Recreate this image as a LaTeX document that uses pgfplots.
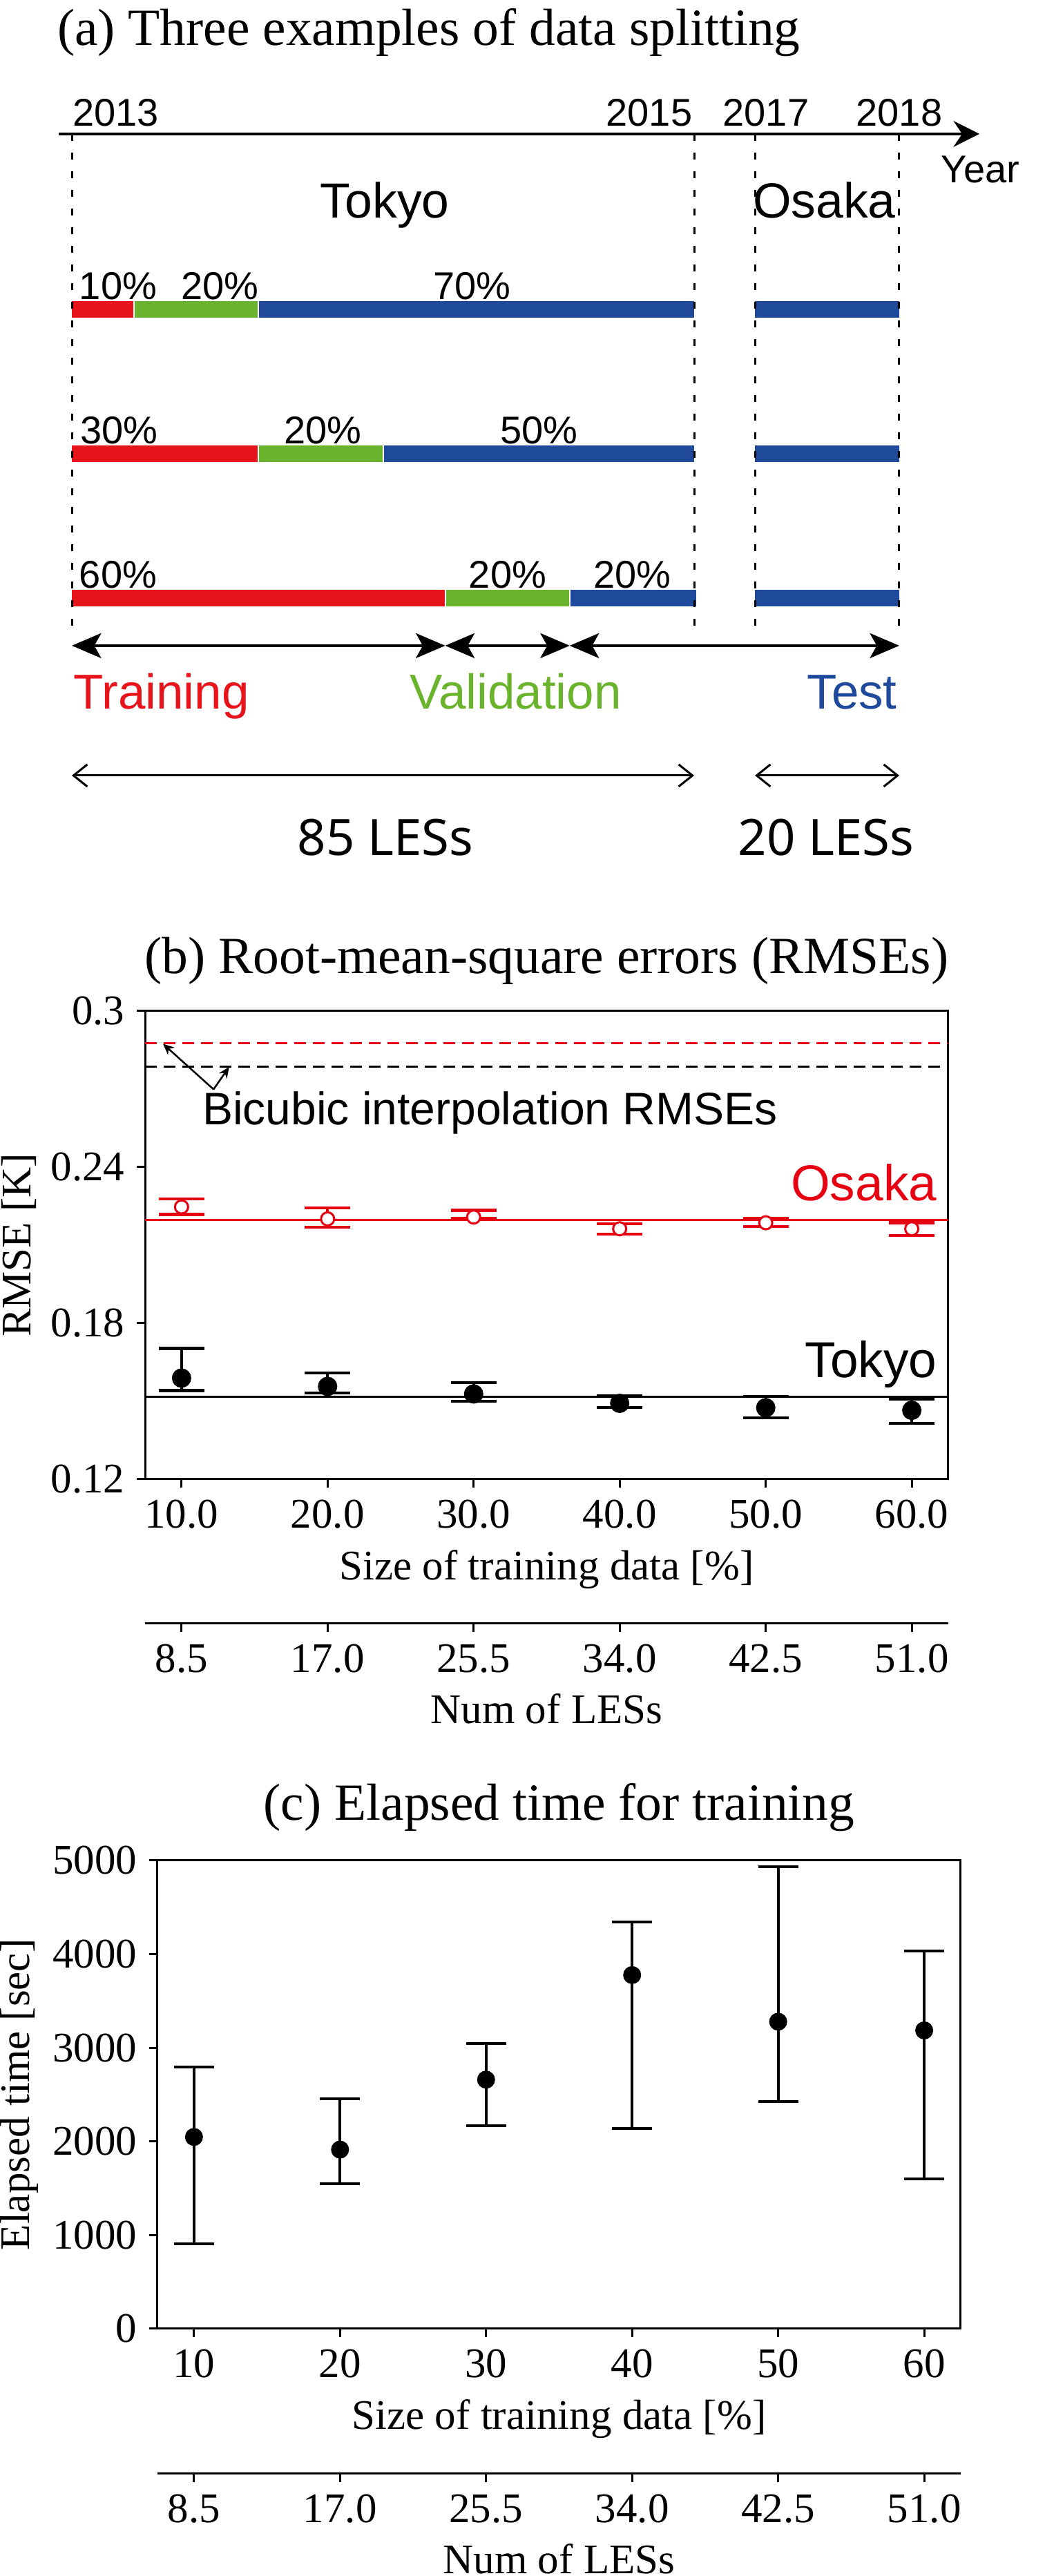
\documentclass[border=0pt]{standalone}
\usepackage{pgfplots}
\pgfplotsset{compat=1.18}
\usepackage{fontspec}
\setmainfont{Liberation Serif}
\newfontfamily\arial{Liberation Sans}
\newfontfamily\noto{Noto Sans}
\usetikzlibrary{arrows.meta}

\definecolor{trainred}{RGB}{232,20,28}
\definecolor{valgreen}{RGB}{106,180,45}
\definecolor{testblue}{RGB}{31,74,156}
\definecolor{osakared}{RGB}{230,0,18}

\newcommand\fs[1]{\fontsize{#1}{#1}\selectfont}

\tikzset{
  seg/.style={line width=4.8pt},
  guide/.style={black, line width=0.6pt, dash pattern=on 2pt off 3.4pt},
  pct/.style={anchor=base west, inner sep=0pt, font=\arial\fs{11.2}},
}

\pgfplotsset{
  mplaxis/.style={
    scale only axis, width=232.6pt, height=135.6pt,
    xmin=7.5, xmax=62.5, xtick={10,20,30,40,50,60},
    tick align=outside, xtick pos=left, ytick pos=left,
    major tick length=2.4pt,
    axis line style={line width=0.6pt},
    major tick style={black, line width=0.6pt},
    tick label style={font=\fs{12.2}},
    label style={font=\fs{12.2}},
    title style={font=\fs{15.1}, at={(axis description cs:0.5,1)}, anchor=base},
    xlabel style={at={(axis description cs:0.5,0)}, anchor=base, yshift=-29.2pt},
    /pgf/number format/assume math mode=true,
    clip=false,
  },
  lesaxis/.style={
    scale only axis, width=232.6pt, height=10pt,
    xmin=7.5, xmax=62.5, ymin=0, ymax=1,
    axis y line=none, axis x line*=bottom,
    x axis line style={-, line width=0.6pt},
    xtick={10,20,30,40,50,60}, xticklabels={8.5,17.0,25.5,34.0,42.5,51.0},
    tick align=outside, major tick length=2.4pt,
    major tick style={black, line width=0.6pt},
    tick label style={font=\fs{12.2}},
    xlabel={Num of LESs},
    label style={font=\fs{12.2}},
    xlabel style={at={(axis description cs:0.5,0)}, anchor=base, yshift=-29pt},
  },
}

\begin{document}
\begin{tikzpicture}
\useasboundingbox (0,0) rectangle (302.4pt,746pt);

% (a) data splitting: x in percent of the Tokyo period, y in pixels from the bottom
\begin{axis}[at={(0pt,0pt)}, anchor=south west, x=1.802pt, y=0.2pt,
  xmin=-11.543, xmax=156.27, ymin=0, ymax=3730, hide axis, clip=false]
  % row 1: 10 / 20 / 70
  \addplot[seg, trainred] coordinates {(0,3282) (10,3282)};
  \addplot[seg, valgreen] coordinates {(10,3282) (30,3282)};
  \addplot[seg, testblue] coordinates {(30,3282) (100,3282)};
  \addplot[seg, testblue] coordinates {(109.77,3282) (132.96,3282)};
  % row 2: 30 / 20 / 50
  \addplot[seg, trainred] coordinates {(0,3073) (30,3073)};
  \addplot[seg, valgreen] coordinates {(30,3073) (50,3073)};
  \addplot[seg, testblue] coordinates {(50,3073) (100,3073)};
  \addplot[seg, testblue] coordinates {(109.77,3073) (132.96,3073)};
  % row 3: 60 / 20 / 20
  \addplot[seg, trainred] coordinates {(0,2864) (60,2864)};
  \addplot[seg, valgreen] coordinates {(60,2864) (80,2864)};
  \addplot[seg, testblue] coordinates {(80,2864) (100.3,2864)};
  \addplot[seg, testblue] coordinates {(109.77,2864) (132.96,2864)};
  % thin white joints between segments
  \addplot[white, line width=0.4pt] coordinates {(10,3270) (10,3294)};
  \addplot[white, line width=0.4pt] coordinates {(30,3270) (30,3294)};
  \addplot[white, line width=0.4pt] coordinates {(30,3061) (30,3085)};
  \addplot[white, line width=0.4pt] coordinates {(50,3061) (50,3085)};
  \addplot[white, line width=0.4pt] coordinates {(60,2852) (60,2876)};
  \addplot[white, line width=0.4pt] coordinates {(80,2852) (80,2876)};
  % year guides
  \addplot[guide] coordinates {(0,3536) (0,2819)};
  \addplot[guide] coordinates {(100,3536) (100,2819)};
  \addplot[guide] coordinates {(109.77,3536) (109.77,2819)};
  \addplot[guide] coordinates {(132.96,3536) (132.96,2819)};

  \draw[line width=0.8pt, -{Stealth[length=7.5pt,width=7.5pt,inset=2.5pt]}]
    (axis cs:-2.11,3536) -- (axis cs:145.84,3536);
  \node[anchor=base west, inner sep=0pt, font=\fs{15.1}] at (axis cs:-2.44,3664)
    {(a) Three examples of data splitting};
  \node[pct] at (axis cs:0,3547) {2013};
  \node[pct, anchor=base east] at (axis cs:99.8,3547) {2015};
  \node[pct, anchor=base] at (axis cs:111.54,3547) {2017};
  \node[pct, anchor=base] at (axis cs:132.96,3547) {2018};
  \node[pct] at (axis cs:139.6,3465) {Year};
  \node[anchor=base, inner sep=0pt, font=\arial\fs{14.3}] at (axis cs:50.3,3414) {Tokyo};
  \node[anchor=base, inner sep=0pt, font=\arial\fs{14.3}] at (axis cs:120.9,3414) {Osaka};

  \node[pct] at (axis cs:1.1,3296) {10\%};
  \node[pct] at (axis cs:17.5,3296) {20\%};
  \node[pct] at (axis cs:58.0,3296) {70\%};
  \node[pct] at (axis cs:1.3,3087) {30\%};
  \node[pct] at (axis cs:34.0,3087) {20\%};
  \node[pct] at (axis cs:68.7,3087) {50\%};
  \node[pct] at (axis cs:1.1,2878) {60\%};
  \node[pct] at (axis cs:63.7,2878) {20\%};
  \node[pct] at (axis cs:83.7,2878) {20\%};

  \draw[line width=0.8pt, {Stealth[length=8.5pt,width=7.2pt,inset=2pt]}-{Stealth[length=8.5pt,width=7.2pt,inset=2pt]}]
    (axis cs:0,2795) -- (axis cs:60,2795);
  \draw[line width=0.8pt, {Stealth[length=8.5pt,width=7.2pt,inset=2pt]}-{Stealth[length=8.5pt,width=7.2pt,inset=2pt]}]
    (axis cs:60,2795) -- (axis cs:80,2795);
  \draw[line width=0.8pt, {Stealth[length=8.5pt,width=7.2pt,inset=2pt]}-{Stealth[length=8.5pt,width=7.2pt,inset=2pt]}]
    (axis cs:80,2795) -- (axis cs:132.96,2795);
  \node[anchor=base west, inner sep=0pt, text=trainred, font=\arial\fs{14.2}] at (axis cs:0.2,2703) {Training};
  \node[anchor=base, inner sep=0pt, text=valgreen, font=\arial\fs{14.2}] at (axis cs:71.3,2703) {Validation};
  \node[anchor=base east, inner sep=0pt, text=testblue, font=\arial\fs{14.2}] at (axis cs:132.7,2703) {Test};

  \draw[line width=0.6pt, {Straight Barb[length=4pt,width=6.4pt]}-{Straight Barb[length=4pt,width=6.4pt]}]
    (axis cs:0,2607) -- (axis cs:100,2607);
  \draw[line width=0.6pt, {Straight Barb[length=4pt,width=6.4pt]}-{Straight Barb[length=4pt,width=6.4pt]}]
    (axis cs:109.77,2607) -- (axis cs:132.96,2607);
  \node[anchor=base, inner sep=0pt, font=\noto\fs{14.5}] at (axis cs:50.4,2491) {85 LESs};
  \node[anchor=base, inner sep=0pt, font=\noto\fs{14.5}] at (axis cs:121.2,2491) {20 LESs};
\end{axis}

% (b) RMSEs
\begin{axis}[mplaxis, at={(42pt,317.6pt)}, anchor=south west,
  ymin=0.12, ymax=0.30, ytick={0.12,0.18,0.24,0.3}, yticklabels={0.12,0.18,0.24,0.3},
  xticklabels={10.0,20.0,30.0,40.0,50.0,60.0},
  title={(b) Root-mean-square errors (RMSEs)}, title style={yshift=4.8pt},
  xlabel={Size of training data [\%]}, ylabel={RMSE [K]},
  ylabel style={at={(axis description cs:-0.157,0.5)}, anchor=center, inner sep=0pt}]
  \addplot[osakared, line width=0.5pt, dash pattern=on 3.4pt off 2pt] coordinates {(7.5,0.2876) (62.5,0.2876)};
  \addplot[black, line width=0.5pt, dash pattern=on 3.4pt off 2pt] coordinates {(7.5,0.2786) (62.5,0.2786)};
  \addplot[osakared, line width=0.6pt] coordinates {(7.5,0.2196) (62.5,0.2196)};
  \addplot[black, line width=0.6pt] coordinates {(7.5,0.1518) (62.5,0.1518)};
  % Osaka
  \addplot[osakared, only marks, mark=*, mark size=1.9pt,
    mark options={fill=white, draw=osakared, line width=0.6pt},
    error bars/.cd, y dir=both, y explicit,
    error bar style={line width=0.85pt, osakared},
    error mark options={rotate=90, mark size=6.6pt, line width=0.85pt, osakared}]
  coordinates {
    (10,0.2247) += (0,0.0031) -= (0,0.0029)
    (20,0.2201) += (0,0.0043) -= (0,0.0033)
    (30,0.2208) += (0,0.0026) -= (0,0.0006)
    (40,0.2163) += (0,0.0019) -= (0,0.0020)
    (50,0.2186) += (0,0.0017) -= (0,0.0014)
    (60,0.2163) += (0,0.0023) -= (0,0.0026)
  };
  % Tokyo
  \addplot[black, only marks, mark=*, mark size=2.6pt,
    error bars/.cd, y dir=both, y explicit,
    error bar style={line width=0.85pt, black},
    error mark options={rotate=90, mark size=6.6pt, line width=0.85pt, black}]
  coordinates {
    (10,0.1589) += (0,0.0114) -= (0,0.0048)
    (20,0.1557) += (0,0.0051) -= (0,0.0025)
    (30,0.1528) += (0,0.0044) -= (0,0.0028)
    (40,0.1492) += (0,0.0030) -= (0,0.0015)
    (50,0.1475) += (0,0.0043) -= (0,0.0038)
    (60,0.1465) += (0,0.0044) -= (0,0.0051)
  };
  \draw[line width=0.5pt, -{Stealth[length=3.2pt,width=2.8pt]}] (axis cs:12.19,0.2699) -- (axis cs:8.73,0.2874);
  \draw[line width=0.5pt, -{Stealth[length=3.2pt,width=2.8pt]}] (axis cs:12.19,0.2699) -- (axis cs:13.26,0.2785);
  \node[anchor=base west, inner sep=0pt, font=\arial\fs{13.2}] at (axis cs:11.38,0.2563) {Bicubic interpolation RMSEs};
  \node[anchor=base east, inner sep=0pt, text=osakared, font=\arial\fs{14.6}] at (axis cs:61.75,0.2272) {Osaka};
  \node[anchor=base east, inner sep=0pt, font=\arial\fs{14.6}] at (axis cs:61.75,0.1591) {Tokyo};
\end{axis}
\begin{axis}[lesaxis, at={(42pt,275.8pt)}, anchor=south west]
\end{axis}

% (c) elapsed time
\begin{axis}[mplaxis, at={(45.6pt,71.6pt)}, anchor=south west,
  ymin=0, ymax=5000, ytick={0,1000,2000,3000,4000,5000},
  yticklabels={0,1000,2000,3000,4000,5000},
  xticklabels={10,20,30,40,50,60},
  title={(c) Elapsed time for training}, title style={yshift=5.6pt},
  xlabel={Size of training data [\%]}, ylabel={Elapsed time [sec]},
  ylabel style={at={(axis description cs:-0.172,0.5)}, anchor=center, inner sep=0pt}]
  \addplot[black, only marks, mark=*, mark size=2.4pt,
    error bars/.cd, y dir=both, y explicit,
    error bar style={line width=0.8pt, black},
    error mark options={rotate=90, mark size=5.8pt, line width=0.8pt, black}]
  coordinates {
    (10,2048) += (0,747) -= (0,1138)
    (20,1913) += (0,541) -= (0,363)
    (30,2660) += (0,384) -= (0,491)
    (40,3777) += (0,569) -= (0,1636)
    (50,3279) += (0,1657) -= (0,854)
    (60,3186) += (0,847) -= (0,1586)
  };
\end{axis}
\begin{axis}[lesaxis, at={(45.6pt,29.6pt)}, anchor=south west]
\end{axis}
\end{tikzpicture}
\end{document}
